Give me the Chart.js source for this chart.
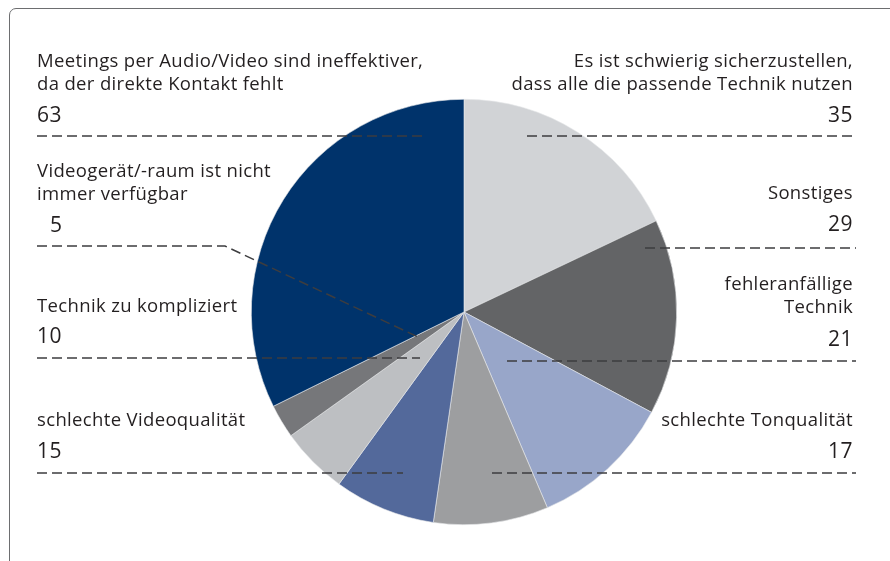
<!DOCTYPE html>
<html lang="de">
<head>
<meta charset="utf-8">
<title>Probleme bei Audio-/Videomeetings</title>
<script src="https://cdn.jsdelivr.net/npm/chart.js@4/dist/chart.umd.min.js"></script>
<style>
  html, body { margin: 0; padding: 0; background: #fff; }
  #wrap { position: relative; width: 890px; height: 561px; overflow: hidden; }
  #frame {
    position: absolute; left: 9px; top: 8px; width: 920px; height: 620px;
    border: 1.5px solid #6d6e70; border-radius: 7px;
  }
  #chart { position: absolute; left: 0; top: 0; }
</style>
</head>
<body>
<div id="wrap">
  <div id="frame"></div>
  <canvas id="chart" width="890" height="561"></canvas>
</div>
<script>
// Daten (im Uhrzeigersinn ab 12 Uhr)
const categories = [
  ['Es ist schwierig sicherzustellen,', 'dass alle die passende Technik nutzen'],
  ['Sonstiges'],
  ['fehleranfällige', 'Technik'],
  ['schlechte Tonqualität'],
  ['schlechte Videoqualität'],
  ['Technik zu kompliziert'],
  ['Videogerät/-raum ist nicht', 'immer verfügbar'],
  ['Meetings per Audio/Video sind ineffektiver,', 'da der direkte Kontakt fehlt']
];
const values = [35, 29, 21, 17, 15, 10, 5, 63];
const sliceColors = ['#d1d3d6', '#636466', '#98a6c9', '#9d9ea0', '#53699b', '#bdbfc2', '#76777a', '#00336b'];

// Position der Beschriftungen und Hilfslinien
const labelLayout = [
  { side: 'right', textY: 67,  valueY: 122, lineY: 136, from: 527, to: 856 },
  { side: 'right', textY: 199, valueY: 231, lineY: 248, from: 645, to: 856 },
  { side: 'right', textY: 290, valueY: 346, lineY: 361, from: 507, to: 856 },
  { side: 'right', textY: 426, valueY: 458, lineY: 473, from: 492, to: 856 },
  { side: 'left',  textY: 426, valueY: 458, lineY: 473, from: 37,  to: 403 },
  { side: 'left',  textY: 312, valueY: 343, lineY: 358, from: 37,  to: 420 },
  { side: 'left',  textY: 177, valueY: 232, lineY: 246, from: 37,  to: 225, valueX: 50, elbow: [418, 337] },
  { side: 'left',  textY: 67,  valueY: 122, lineY: 136, from: 37,  to: 424 }
];

const FONT = '"Open Sans", "Noto Sans", sans-serif';

const labelPlugin = {
  id: 'pieLabels',
  afterDraw(chart) {
    const ctx = chart.ctx;
    ctx.save();
    labelLayout.forEach((l, i) => {
      const lines = categories[i];
      const x = l.side === 'right' ? 853 : 37;
      ctx.textAlign = l.side === 'right' ? 'right' : 'left';
      ctx.textBaseline = 'alphabetic';
      ctx.fillStyle = '#231f20';
      ctx.font = '18.5px ' + FONT;
      ctx.letterSpacing = '0.35px';
      lines.forEach((t, k) => ctx.fillText(t, x, l.textY + k * 23));
      ctx.font = '21px ' + FONT;
      ctx.letterSpacing = '0.5px';
      ctx.fillText(String(values[i]), l.valueX || x, l.valueY);

      // gestrichelte Hilfslinie
      ctx.strokeStyle = '#3d3d3f';
      ctx.lineWidth = 1.5;
      ctx.setLineDash([10, 5]);
      ctx.beginPath();
      ctx.moveTo(l.from, l.lineY);
      ctx.lineTo(l.to, l.lineY);
      if (l.elbow) ctx.lineTo(l.elbow[0], l.elbow[1]);
      ctx.stroke();
    });
    ctx.restore();
  }
};

new Chart(document.getElementById('chart'), {
  type: 'pie',
  data: {
    labels: categories.map(c => c.join(' ')),
    datasets: [{
      data: values,
      backgroundColor: sliceColors,
      borderColor: '#e6e7e9',
      borderWidth: 0.6
    }]
  },
  options: {
    responsive: false,
    animation: false,
    layout: { padding: { left: 251, right: 213, top: 99, bottom: 36 } },
    plugins: {
      legend: { display: false },
      tooltip: { enabled: false }
    }
  },
  plugins: [labelPlugin]
});
</script>
</body>
</html>
